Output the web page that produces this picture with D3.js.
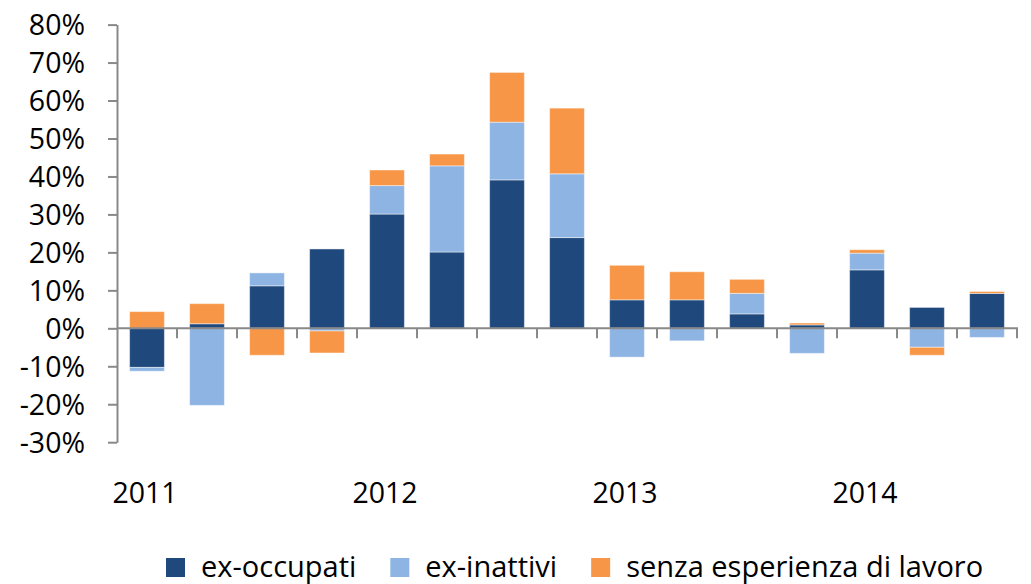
<!DOCTYPE html>
<html>
<head>
<meta charset="utf-8">
<script src="https://cdn.jsdelivr.net/npm/d3@7"></script>
<style>
  body { margin: 0; background: #fff; }
  svg text { font-family: "Open Sans", sans-serif; fill: #000; }
</style>
</head>
<body>
<svg id="chart" width="1031" height="584"></svg>
<script>
// quarters 2011Q1 .. 2014Q3
const quarters = ["2011", "", "", "", "2012", "", "", "", "2013", "", "", "", "2014", "", ""]
const exOccupati = [-10.3, 1.2, 11.2, 20.9, 30.1, 20.1, 39.1, 23.9, 7.5, 7.5, 3.8, 0.9, 15.4, 5.5, 9.2]
const exInattivi = [-1.0, -20.3, 3.4, -0.7, 7.5, 22.7, 15.2, 16.8, -7.6, -3.3, 5.4, -6.6, 4.4, -5.0, -2.4]
const senzaEsperienza = [4.4, 5.3, -7.1, -5.8, 4.1, 3.1, 13.1, 17.3, 9.1, 7.4, 3.7, 0.5, 0.9, -2.1, 0.5]
const seriesNames = ["ex-occupati", "ex-inattivi", "senza esperienza di lavoro"]
const colors = ["#1f497d", "#8eb4e3", "#f79646"]
const yTicks = [-30, -20, -10, 0, 10, 20, 30, 40, 50, 60, 70, 80]

const svg = d3.select("#chart")
const axisColor = "#898989"

const rows = quarters.map((q, i) => ({
  i,
  "ex-occupati": exOccupati[i],
  "ex-inattivi": exInattivi[i],
  "senza esperienza di lavoro": senzaEsperienza[i]
}))

const x = d3.scaleBand()
  .domain(d3.range(quarters.length))
  .range([117, 1017])
  .paddingInner(0.42)
  .paddingOuter(0.21)

const y = d3.scaleLinear()
  .domain([-30, 80])
  .range([442.2, 24.6])

const stack = d3.stack()
  .keys(seriesNames)
  .offset(d3.stackOffsetDiverging)
const stacked = stack(rows)

// bars
svg.append("g")
  .selectAll("g")
  .data(stacked)
  .join("g")
    .attr("fill", (d, i) => colors[i])
  .selectAll("rect")
  .data(d => d)
  .join("rect")
    .attr("x", d => x(d.data.i))
    .attr("width", x.bandwidth())
    .attr("y", d => y(Math.max(d[0], d[1])))
    .attr("height", d => Math.abs(y(d[0]) - y(d[1])))
    .attr("stroke", "#fff")
    .attr("stroke-opacity", 0.45)
    .attr("stroke-width", 1)

// y axis
const yAxis = svg.append("g")
  .attr("transform", "translate(117,0)")
  .call(d3.axisLeft(y).tickValues(yTicks).tickSize(9).tickSizeOuter(0)
    .tickFormat(d => d + "%"))
yAxis.select(".domain").attr("stroke", axisColor).attr("stroke-width", 2)
yAxis.selectAll(".tick line").attr("stroke", axisColor).attr("stroke-width", 2)
yAxis.selectAll(".tick text")
  .attr("x", -32)
  .attr("dy", "0.36em")
  .style("font-size", "28.5px")
  .style("font-family", '"Open Sans", sans-serif')
  .attr("fill", "#000")

// x axis at zero
const step = x.step()
const boundaries = d3.range(1, quarters.length + 1).map(k => x.range()[0] + k * step)
svg.append("line")
  .attr("x1", 117).attr("x2", 1018)
  .attr("y1", y(0)).attr("y2", y(0))
  .attr("stroke", axisColor).attr("stroke-width", 2)
svg.append("g")
  .selectAll("line")
  .data(boundaries)
  .join("line")
    .attr("x1", d => d).attr("x2", d => d)
    .attr("y1", y(0)).attr("y2", y(0) + 10)
    .attr("stroke", axisColor).attr("stroke-width", 2)

// year labels
svg.append("g")
  .selectAll("text")
  .data(quarters.map((q, i) => ({ q, i })).filter(d => d.q))
  .join("text")
    .attr("x", d => x(d.i) + x.bandwidth() / 2 - 2)
    .attr("y", 503)
    .attr("text-anchor", "middle")
    .style("font-size", "28.5px")
    .text(d => d.q)

// legend
const legend = svg.append("g")
let lx = 166
seriesNames.forEach((name, i) => {
  legend.append("rect")
    .attr("x", lx).attr("y", 558)
    .attr("width", 19).attr("height", 19)
    .attr("fill", colors[i])
  const t = legend.append("text")
    .attr("x", lx + 35)
    .attr("y", 577)
    .style("font-size", "29px")
    .text(name)
  lx += 35 + t.node().getComputedTextLength() + 34
})
</script>
</body>
</html>
